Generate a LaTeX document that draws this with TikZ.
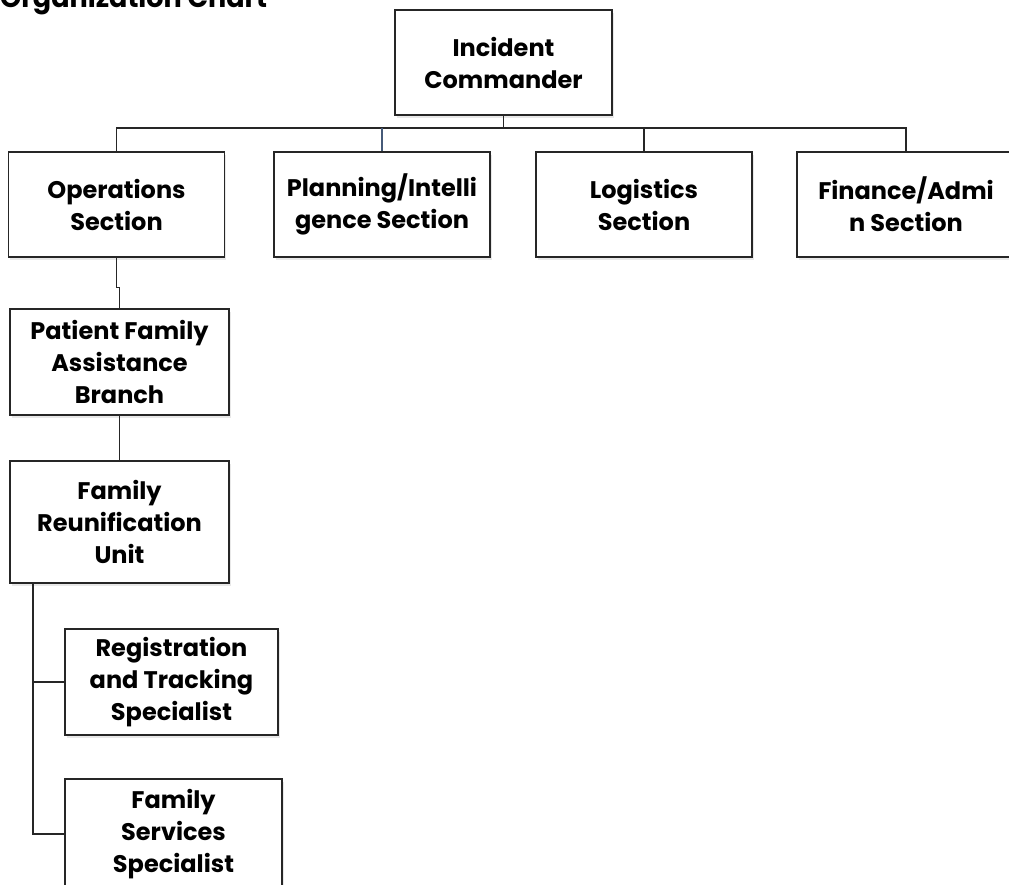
\documentclass[tikz,border=0pt]{standalone}
\usepackage{fontspec}
\setmainfont{Poppins}
\usetikzlibrary{shadows}
\definecolor{stemblue}{RGB}{70,90,120}
\begin{document}
\begin{tikzpicture}[x=1pt, y=-1pt,
	unitbox/.style={draw=black!85, line width=1.6pt, fill=white, align=center,
		font=\fontsize{24}{32}\selectfont\bfseries, inner sep=0pt,
		drop shadow={shadow xshift=1.5pt, shadow yshift=-2.5pt, opacity=0.18}},
	link/.style={draw=black!85, line width=1.3pt}]
			\clip (0,0) rectangle (1009,884);
			\fill[white] (0,0) rectangle (1009,884);
			\node[anchor=base west, inner sep=0pt, font=\fontsize{27}{30}\selectfont\bfseries] (title) at (0,7) {Organization Chart};
			
			\node[unitbox, minimum width=217pt, minimum height=105pt] (cmd) at (503.5,62.5) {Incident\\Commander};
			\coordinate (bus) at (0,128);
			
			\node[unitbox, minimum width=216pt, minimum height=105pt] (ops) at (116.5,204.5) {Operations\\Section};
			\node[unitbox, minimum width=216pt, minimum height=105pt] (plan) at (382,204.5) {Planning/Intelli\\gence Section};
			\node[unitbox, minimum width=216pt, minimum height=105pt] (logi) at (644,204.5) {Logistics\\Section};
			\node[unitbox, minimum width=218pt, minimum height=105pt] (fin) at (906,204.5) {Finance/Admi\\n Section};
			
			\node[unitbox, minimum width=219pt, minimum height=106pt] (pfab) at (119.5,362) {Patient Family\\Assistance\\Branch};
			\node[unitbox, minimum width=219pt, minimum height=122pt] (fru) at (119.5,522) {Family\\Reunification\\Unit};
			\node[unitbox, minimum width=213pt, minimum height=106pt] (rts) at (171.5,682) {Registration\\and Tracking\\Specialist};
			\node[unitbox, minimum width=217pt, minimum height=110pt] (fss) at (173.5,834) {Family\\Services\\Specialist};
			\coordinate (trunk) at (33,583);
			
			\draw[link] (cmd.south) -- (cmd.south |- bus);
			\draw[link] (ops.north) -- (ops.north |- bus) -- (fin.north |- bus) -- (fin.north);
			\draw[link, stemblue] (plan.north) -- (plan.north |- bus);
			\draw[link] (logi.north) -- (logi.north |- bus);
			\draw[link] (ops.south) -- ++(0,30) -| (pfab.north);
			\draw[link] (pfab.south) -- (fru.north);
			\draw[link] (trunk) |- (rts.west);
			\draw[link] (trunk) |- (fss.west);
		\end{tikzpicture}
\end{document}
